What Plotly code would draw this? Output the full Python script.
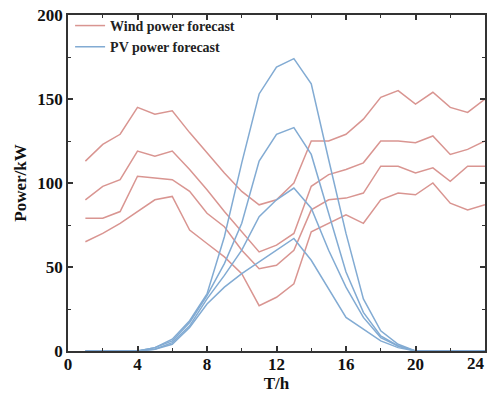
import plotly.graph_objects as go

hours = list(range(1, 25))

wind_1 = [113, 123, 129, 145, 141, 143, 130, 118, 106, 95, 87, 90, 100, 125, 125, 129, 138, 151, 155, 147, 154, 145, 142, 150]
wind_2 = [90, 98, 102, 119, 116, 119, 108, 96, 83, 71, 59, 63, 70, 98, 105, 108, 112, 125, 125, 124, 128, 117, 120, 125]
wind_3 = [79, 79, 83, 104, 103, 102, 95, 82, 74, 60, 49, 51, 60, 84, 90, 91, 94, 110, 110, 106, 109, 101, 110, 110]
wind_4 = [65, 70, 76, 83, 90, 92, 72, 64, 56, 46, 27, 32, 40, 71, 76, 81, 76, 90, 94, 93, 100, 88, 84, 87]

pv_1 = [0, 0, 0, 0, 2, 7, 18, 34, 68, 112, 153, 169, 174, 159, 114, 70, 31, 12, 4, 0, 0, 0, 0, 0]
pv_2 = [0, 0, 0, 0, 2, 6, 17, 33, 52, 76, 113, 129, 133, 117, 82, 47, 23, 9, 3, 0, 0, 0, 0, 0]
pv_3 = [0, 0, 0, 0, 1, 5, 15, 31, 45, 60, 80, 90, 97, 85, 60, 38, 20, 8, 3, 0, 0, 0, 0, 0]
pv_4 = [0, 0, 0, 0, 1, 4, 14, 28, 38, 46, 53, 60, 67, 54, 37, 20, 13, 6, 2, 0, 0, 0, 0, 0]

x_tickvals = [0, 4, 8, 12, 16, 20, 24]
x_ticktext = ["0", "4", "8", "12", "16", "20", "24"]
y_tickvals = [0, 50, 100, 150, 200]

wind_series = [wind_1, wind_2, wind_3, wind_4]
pv_series = [pv_1, pv_2, pv_3, pv_4]

RED = "#d99591"
BLUE = "#82abd3"

fig = go.Figure()
for i, s in enumerate(wind_series):
    fig.add_trace(go.Scatter(x=hours, y=s, mode="lines", line=dict(color=RED, width=1.5),
                             name="<b>Wind power forecast</b>", legendgroup="w", showlegend=(i == 0)))
for i, s in enumerate(pv_series):
    fig.add_trace(go.Scatter(x=hours, y=s, mode="lines", line=dict(color=BLUE, width=1.5),
                             name="<b>PV power forecast</b>", legendgroup="p", showlegend=(i == 0)))

font_family = "Liberation Serif, Times New Roman, serif"

# the last x tick label is drawn as an annotation, nudged left so it fits inside the page
shown_text = x_ticktext[:-1] + [""]
fig.add_annotation(x=x_tickvals[-1], y=0, xref="x", yref="y", text="<b>" + x_ticktext[-1] + "</b>",
                   showarrow=False, xanchor="right", yanchor="top", xshift=2, yshift=-1,
                   font=dict(family=font_family, size=17, color="#111"))

fig.update_layout(
    width=487, height=399,
    margin=dict(l=68, r=2, t=15, b=48, autoexpand=False),
    paper_bgcolor="white", plot_bgcolor="white",
    font=dict(family=font_family, color="#111", size=17),
    showlegend=True,
    legend=dict(x=0.005, y=1.015, xanchor="left", yanchor="top", bgcolor="rgba(0,0,0,0)",
                font=dict(family=font_family, size=14, color="#222"),
                tracegroupgap=0, itemwidth=30, traceorder="normal"),
    xaxis=dict(range=[0, 24], tickvals=x_tickvals, ticktext=shown_text, ticks="inside", ticklen=5,
               tickwidth=1.5, tickcolor="#333", showline=True, linecolor="#333", linewidth=1.5,
               mirror="ticks", showgrid=False, zeroline=False, ticklabeloverflow="allow",
               ticklabelstandoff=-3, automargin=False,
               minor=dict(tickvals=[2, 6, 10, 14, 18, 22], ticks="inside", ticklen=3, tickcolor="#333", tickwidth=1.2),
               tickfont=dict(family=font_family, size=17, weight="bold"),
               title=dict(text="<b>T/h</b>", font=dict(family=font_family, size=17), standoff=0)),
    yaxis=dict(range=[0, 200], tickvals=y_tickvals, ticks="inside", ticklen=5,
               tickwidth=1.5, tickcolor="#333", showline=True, linecolor="#333", linewidth=1.5,
               mirror="ticks", showgrid=False, zeroline=False, ticklabeloverflow="allow",
               automargin=False,
               minor=dict(tickvals=[25, 75, 125, 175], ticks="inside", ticklen=3, tickcolor="#333", tickwidth=1.2),
               tickfont=dict(family=font_family, size=17, weight="bold"),
               title=dict(text="<b>Power/kW</b>", font=dict(family=font_family, size=17), standoff=6)),
)

fig.write_html("out.html")
